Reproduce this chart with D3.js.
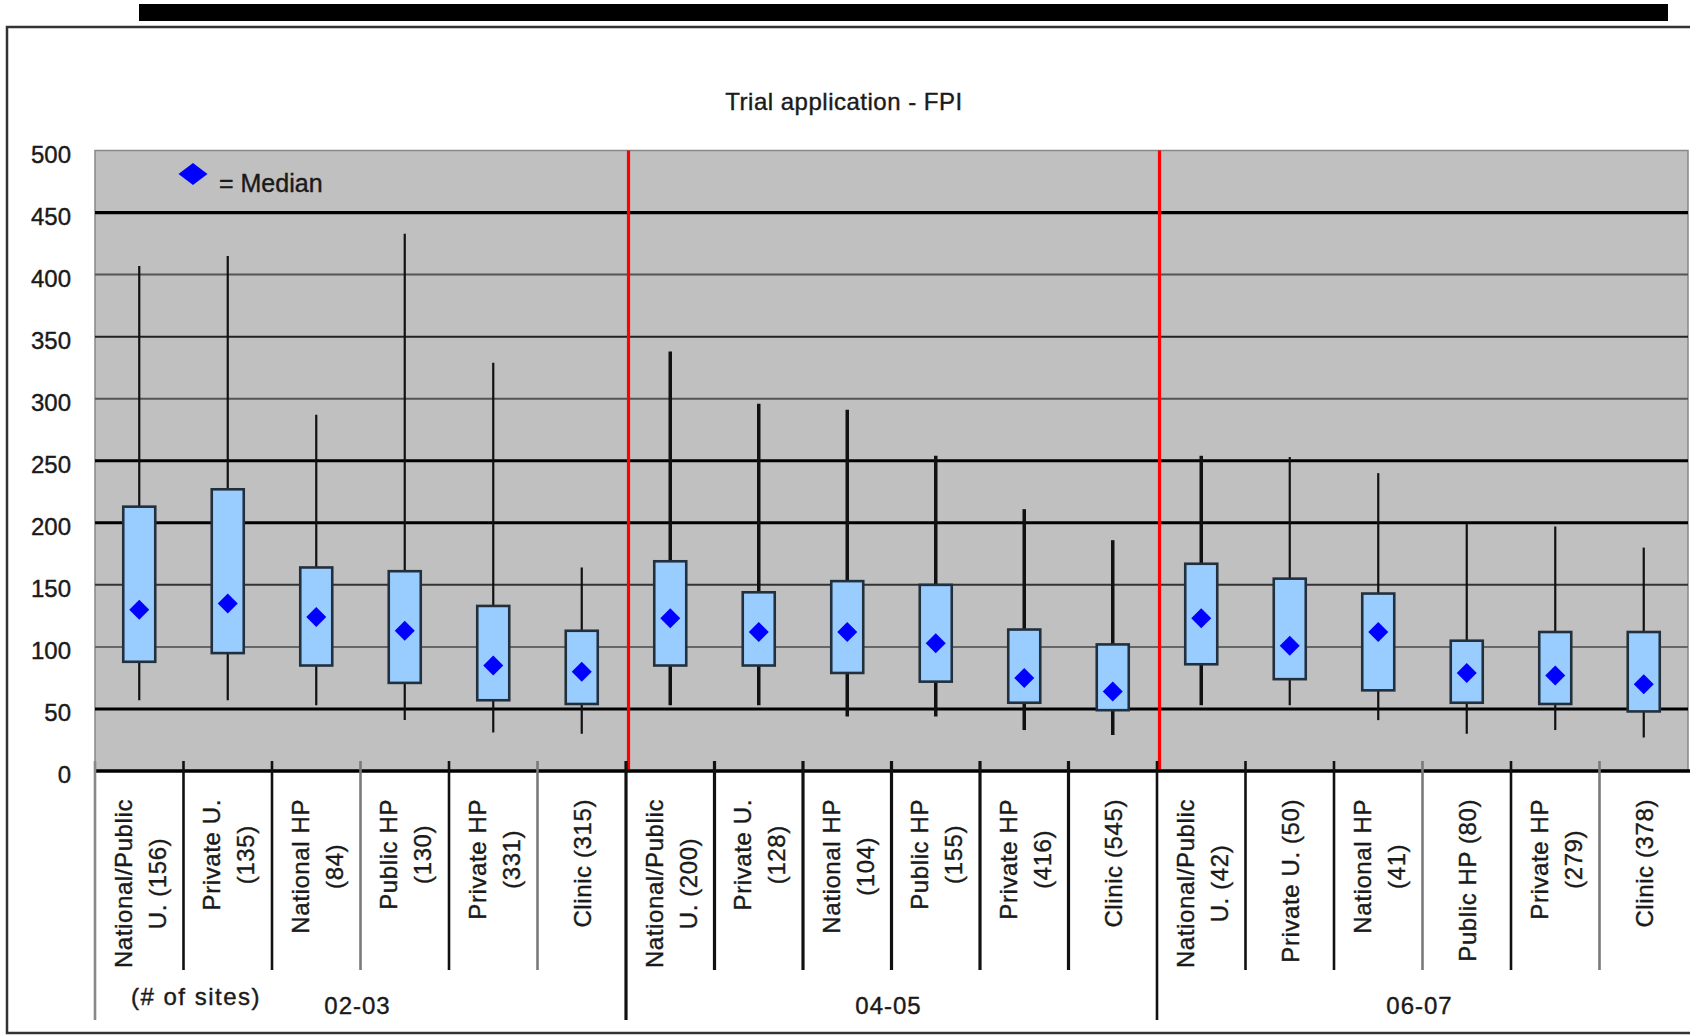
<!DOCTYPE html>
<html lang="en">
<head>
  <meta charset="UTF-8">
  <title>Trial application - FPI</title>
  <script src="https://d3js.org/d3.v7.min.js"></script>
  <style>
    body { margin: 0; background: #fff; }
    svg { display: block; font-family: "Liberation Sans", Arial, sans-serif; }
    text { fill: #1a1a1a; stroke: #1a1a1a; stroke-width: 0.4px; }
  </style>
</head>
<body>
<svg width="1690" height="1036"></svg>

<script>
  // survey periods, 6 site types each
  const periods = ["02-03", "04-05", "06-07"];
  const siteLabels = [
    "National/Public\nU. (156)", "Private U.\n(135)", "National HP\n(84)", "Public HP\n(130)", "Private HP\n(331)", "Clinic (315)",
    "National/Public\nU. (200)", "Private U.\n(128)", "National HP\n(104)", "Public HP\n(155)", "Private HP\n(416)", "Clinic (545)",
    "National/Public\nU. (42)", "Private U. (50)", "National HP\n(41)", "Public HP (80)", "Private HP\n(279)", "Clinic (378)"
  ];
  // days
  const whiskerHigh = [407, 415, 287, 433, 329, 164, 338, 296, 291, 254, 211, 186, 254, 253, 240, 199, 197, 180];
  const boxHigh     = [213, 227, 164, 161, 133, 113, 169, 144, 153, 150, 114, 102, 167, 155, 143, 105, 112, 112];
  const medians     = [130, 135, 124, 113,  85,  80, 123, 112, 112, 103,  75,  64, 123, 101, 112,  79,  77,  70];
  const boxLow      = [ 88,  95,  85,  71,  57,  54,  85,  85,  79,  72,  55,  49,  86,  74,  65,  55,  54,  48];
  const whiskerLow  = [ 57,  57,  53,  41,  31,  30,  53,  53,  44,  44,  33,  29,  53,  53,  41,  30,  33,  27];
  const yTicks = [0, 50, 100, 150, 200, 250, 300, 350, 400, 450, 500];

  const rows = siteLabels.map((label, i) => ({
    id: i, label, period: periods[Math.floor(i / 6)],
    lo: whiskerLow[i], q1: boxLow[i], med: medians[i], q3: boxHigh[i], hi: whiskerHigh[i]
  }));

  const svg = d3.select("svg");
  const plotL = 95, plotR = 1688, plotT = 150.5, plotB = 771;

  const x = d3.scaleBand().domain(rows.map(d => d.id)).range([plotL, plotR]).padding(0);
  const y = d3.scaleLinear().domain([0, 500]).range([plotB, plotT]);
  const bw = x.bandwidth();

  // page decorations
  svg.append("rect").attr("x", 139).attr("y", 4).attr("width", 1529).attr("height", 17).attr("fill", "#000");
  svg.append("rect").attr("x", 7).attr("y", 27).attr("width", 1720).attr("height", 1006)
    .attr("fill", "none").attr("stroke", "#333").attr("stroke-width", 2.5);

  svg.append("text").attr("x", 844).attr("y", 110).attr("text-anchor", "middle")
    .style("font-size", "24px").style("letter-spacing", "0.5px")
    .text("Trial application - FPI");

  // plot area
  svg.append("rect").attr("x", plotL).attr("y", plotT).attr("width", plotR - plotL).attr("height", plotB - plotT)
    .attr("fill", "#c0c0c0").attr("stroke", "#888").attr("stroke-width", 1.5);

  const gridStyle = {
    50: [3, "#000"], 100: [2, "#666"], 150: [2, "#333"], 200: [3, "#000"], 250: [3, "#000"],
    300: [2, "#555"], 350: [2, "#222"], 400: [2, "#555"], 450: [3.2, "#000"]
  };
  svg.append("g").selectAll("line")
    .data(yTicks.filter(t => t > 0 && t < 500))
    .join("line")
      .attr("x1", plotL).attr("x2", plotR)
      .attr("y1", d => y(d)).attr("y2", d => y(d))
      .attr("stroke", d => gridStyle[d][1])
      .attr("stroke-width", d => gridStyle[d][0]);

  // y axis labels
  const yAxis = svg.append("g")
    .attr("transform", `translate(${plotL},0)`)
    .call(d3.axisLeft(y).tickValues(yTicks).tickSize(0).tickPadding(24));
  yAxis.select(".domain").remove();
  yAxis.selectAll("text")
    .attr("dy", "0.48em")
    .style("font-size", "24px")
    .style("font-family", "Liberation Sans, Arial, sans-serif")
    .attr("fill", "#1a1a1a");

  // period separators (red), drawn just right of the band edge
  svg.append("g").selectAll("line")
    .data([6, 12])
    .join("line")
      .attr("x1", d => x(d) + 2.5).attr("x2", d => x(d) + 2.5)
      .attr("y1", plotT).attr("y2", plotB)
      .attr("stroke", "#ff0000").attr("stroke-width", 3.2);

  // whiskers
  const whiskerW = i => (Math.floor(i / 6) === 1 || i === 12) ? 3.5 : 2.2;
  svg.append("g").selectAll("line")
    .data(rows)
    .join("line")
      .attr("x1", d => x(d.id) + bw / 2).attr("x2", d => x(d.id) + bw / 2)
      .attr("y1", d => y(d.hi)).attr("y2", d => y(d.lo))
      .attr("stroke", "#111")
      .attr("stroke-width", d => whiskerW(d.id));

  // boxes
  const boxW = 32;
  svg.append("g").selectAll("rect")
    .data(rows)
    .join("rect")
      .attr("x", d => x(d.id) + bw / 2 - boxW / 2)
      .attr("width", boxW)
      .attr("y", d => y(d.q3))
      .attr("height", d => y(d.q1) - y(d.q3))
      .attr("fill", "#99ccff")
      .attr("stroke", "#22303d")
      .attr("stroke-width", 2.6);

  // medians
  const diamond = d3.symbol(d3.symbolSquare, 200);
  svg.append("g").selectAll("path")
    .data(rows)
    .join("path")
      .attr("d", diamond)
      .attr("transform", d => `translate(${x(d.id) + bw / 2},${y(d.med)}) rotate(45)`)
      .attr("fill", "#0000ff");

  // legend
  svg.append("path")
    .attr("d", d3.symbol(d3.symbolSquare, 200))
    .attr("transform", "translate(193,174) scale(1.45,1.1) rotate(45)")
    .attr("fill", "#0000ff");
  svg.append("text").attr("x", 219).attr("y", 192)
    .style("font-size", "25px").text("= Median");

  // category axis
  svg.append("line").attr("x1", plotL).attr("x2", 1690).attr("y1", plotB).attr("y2", plotB)
    .attr("stroke", "#000").attr("stroke-width", 3.5);

  const bounds = d3.range(0, rows.length).map(i => ({ i, xv: x(i) }));
  const sepColor = i => (i % 6 === 0 || Math.floor(i / 6) === 1 || i % 6 === 1 || i % 6 === 2 || i % 6 === 4) ? "#111" : "#7a7a7a";
  svg.append("g").selectAll("line")
    .data(bounds)
    .join("line")
      .attr("x1", d => d.xv).attr("x2", d => d.xv)
      .attr("y1", plotB - 10)
      .attr("y2", d => d.i % 6 === 0 ? 1020 : 970)
      .attr("stroke", d => d.i === 0 ? "#888" : sepColor(d.i))
      .attr("stroke-width", d => Math.floor(d.i / 6) === 1 ? 3.2 : 2.6);

  // rotated site labels, lines centred, longest line ends near the axis
  const labelTop = 799, lineGap = 34;
  const labelG = svg.append("g").style("font-size", "24px").style("letter-spacing", "0.6px");
  rows.forEach(d => {
    const lines = d.label.split("\n");
    const cx = x(d.id) + bw / 2 + 1;
    const texts = lines.map(t => labelG.append("text").attr("text-anchor", "middle").attr("dy", "0.36em").text(t));
    const longest = d3.max(texts, t => t.node().getComputedTextLength());
    const cy = labelTop + longest / 2;
    texts.forEach((t, k) => {
      const dx = (k - (lines.length - 1) / 2) * lineGap;
      t.attr("transform", `translate(${cx + dx},${cy}) rotate(-90)`);
    });
  });

  // period labels
  svg.append("g").selectAll("text")
    .data(periods)
    .join("text")
      .attr("x", (p, j) => (x(j * 6) + x(j * 6 + 5) + bw) / 2 - 3)
      .attr("y", 1014)
      .attr("text-anchor", "middle")
      .style("font-size", "24px")
      .style("letter-spacing", "1px")
      .text(p => p);

  svg.append("text").attr("x", plotL + 101).attr("y", 1005).attr("text-anchor", "middle")
    .style("font-size", "24px").style("letter-spacing", "1.5px")
    .text("(# of sites)");
</script>
</body>
</html>
